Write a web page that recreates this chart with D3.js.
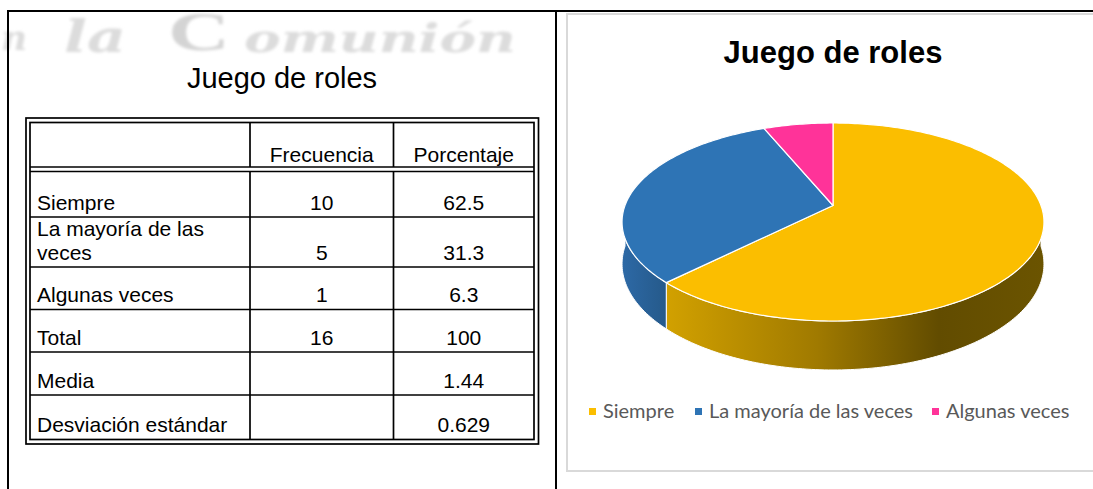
<!DOCTYPE html>
<html><head><meta charset="utf-8">
<script src="https://cdn.jsdelivr.net/npm/d3@7"></script>
<style>html,body{margin:0;padding:0;background:#fff;overflow:hidden;} svg{display:block;}</style>
</head><body>
<svg id="c" width="1093" height="489"></svg>
<script>
// ---------------- data ----------------
const tableTitle = "Juego de roles";
const chartTitle = "Juego de roles";
const headers = ["", "Frecuencia", "Porcentaje"];
const rowLabels = [["Siempre"], ["La mayoría de las", "veces"], ["Algunas veces"], ["Total"], ["Media"], ["Desviación estándar"]];
const frecuencias = ["10", "5", "1", "16", "", ""];
const porcentajes = ["62.5", "31.3", "6.3", "100", "1.44", "0.629"];
const categories = ["Siempre", "La mayoría de las veces", "Algunas veces"];
const values = [10, 5, 1];
const colors = ["#fbbe00", "#2e74b5", "#ff3399"];
const watermark = ["n", "la", "C", "omunión"];

// ---------------- drawing ----------------
const svg = d3.select("#c");
const defs = svg.append("defs");
defs.append("filter").attr("id", "blur").append("feGaussianBlur").attr("stdDeviation", 1.8);

// watermark
const wm = svg.append("g").attr("filter", "url(#blur)").attr("fill", "#dcdcdc")
  .style("font-family", "'DejaVu Serif', serif").style("font-style", "italic").style("font-weight", "bold");
wm.append("text").attr("x", 1).attr("y", 50).style("font-size", "36px").text(watermark[0]);
wm.append("text").attr("x", 64).attr("y", 52).style("font-size", "44px").attr("textLength", 62).attr("lengthAdjust", "spacingAndGlyphs").text(watermark[1]);
wm.append("text").attr("x", 168).attr("y", 50).style("font-family", "'Liberation Serif', serif").style("font-size", "54px")
  .style("font-style", "normal").style("font-weight", "bold")
  .attr("textLength", 62).attr("lengthAdjust", "spacingAndGlyphs").attr("fill", "#d4d4d4").text(watermark[2]);
wm.append("text").attr("x", 244).attr("y", 52).style("font-size", "40px").attr("textLength", 272).attr("lengthAdjust", "spacingAndGlyphs").text(watermark[3]);

// frame
const frame = svg.append("g").attr("stroke", "#000").attr("stroke-width", 2);
frame.append("line").attr("x1", 7).attr("x2", 1093).attr("y1", 11).attr("y2", 11);
frame.append("line").attr("x1", 8).attr("x2", 8).attr("y1", 10).attr("y2", 489);
frame.append("line").attr("x1", 556).attr("x2", 556).attr("y1", 10).attr("y2", 489);

// ---- table ----
const fontT = "'Liberation Sans', Arial, sans-serif";
svg.append("text").attr("x", 282).attr("y", 88).attr("text-anchor", "middle")
  .style("font-family", fontT).style("font-size", "29px").attr("fill", "#000").text(tableTitle);

const colX = [30, 250, 393.5, 534];
const rowY = [171.5, 217, 267, 309.5, 352, 395, 439.5];
const tb = svg.append("g").attr("stroke", "#000").attr("stroke-width", 1.7).attr("fill", "none");
tb.append("rect").attr("x", 26).attr("y", 118).attr("width", 512.5).attr("height", 326);
tb.append("rect").attr("x", 30).attr("y", 122.5).attr("width", 504).attr("height", 317);
tb.append("line").attr("x1", 30).attr("x2", 534).attr("y1", 167).attr("y2", 167);
rowY.slice(0, -1).forEach(y => tb.append("line").attr("x1", 30).attr("x2", 534).attr("y1", y).attr("y2", y));
[colX[1], colX[2]].forEach(x => {
  tb.append("line").attr("x1", x).attr("x2", x).attr("y1", 122.5).attr("y2", 167);
  tb.append("line").attr("x1", x).attr("x2", x).attr("y1", 171.5).attr("y2", 439.5);
});

const tt = svg.append("g").style("font-family", fontT).style("font-size", "21px").attr("fill", "#000");
const colC = [null, (colX[1] + colX[2]) / 2, (colX[2] + colX[3]) / 2];
tt.append("text").attr("x", colC[1]).attr("y", 162).attr("text-anchor", "middle").text(headers[1]);
tt.append("text").attr("x", colC[2]).attr("y", 162).attr("text-anchor", "middle").text(headers[2]);
rowY.slice(1).forEach((yb, i) => {
  const base = yb - 7.5;
  const lines = rowLabels[i];
  lines.forEach((l, j) => {
    tt.append("text").attr("x", 37).attr("y", base - (lines.length - 1 - j) * 24).text(l);
  });
  tt.append("text").attr("x", colC[1]).attr("y", base).attr("text-anchor", "middle").text(frecuencias[i]);
  tt.append("text").attr("x", colC[2]).attr("y", base).attr("text-anchor", "middle").text(porcentajes[i]);
});

// ---- chart box ----
svg.append("rect").attr("x", 567).attr("y", 14).attr("width", 600).attr("height", 457)
  .attr("fill", "#fff").attr("stroke", "#d9d9d9").attr("stroke-width", 2);
svg.append("text").attr("x", 833).attr("y", 63).attr("text-anchor", "middle")
  .style("font-family", fontT).style("font-size", "31px").style("font-weight", "bold")
  .attr("fill", "#000").text(chartTitle);

// ---- 3D pie ----
const P = {cx: 833, cy: 205.5, A: 208, B: 96.25, k: 0.1667, H: 40.8};
function proj(theta, depth) {
  const u = Math.sin(theta), v = Math.cos(theta);
  const w = 1 + P.k * v;
  return [P.cx + P.A * u / w, P.cy - P.B * v / w + depth * P.H / w];
}
function arcPts(a0, a1, depth) {
  const n = Math.max(2, Math.ceil((a1 - a0) / (Math.PI / 180)));
  return d3.range(n + 1).map(i => proj(a0 + (a1 - a0) * i / n, depth));
}
const pie = d3.pie().sort(null).value(d => d)(values);

const yg = defs.append("linearGradient").attr("id", "gy").attr("gradientUnits", "userSpaceOnUse")
  .attr("x1", 665).attr("x2", 1045).attr("y1", 0).attr("y2", 0);
[[0, "#d2a100"], [0.4, "#a07a00"], [0.72, "#624c00"], [1, "#6b5400"]]
  .forEach(s => yg.append("stop").attr("offset", s[0]).attr("stop-color", s[1]));
const bg = defs.append("linearGradient").attr("id", "gb").attr("gradientUnits", "userSpaceOnUse")
  .attr("x1", 622).attr("x2", 668).attr("y1", 0).attr("y2", 0);
[[0, "#2d69a6"], [1, "#255989"]].forEach(s => bg.append("stop").attr("offset", s[0]).attr("stop-color", s[1]));
const sideFill = ["url(#gy)", "url(#gb)", "#b0246c"];

const line = d3.line();
const gp = svg.append("g");
pie.forEach((d, i) => {
  const s = Math.max(d.startAngle, Math.PI / 2), e = Math.min(d.endAngle, 3 * Math.PI / 2);
  if (e > s) {
    const pts = arcPts(s, e, 0).concat(arcPts(s, e, 1).reverse());
    gp.append("path").attr("d", line(pts) + "Z").attr("fill", sideFill[i])
      .attr("stroke", "#fff").attr("stroke-width", 1).attr("stroke-linejoin", "round");
  }
});
pie.forEach((d, i) => {
  const pts = [[P.cx, P.cy]].concat(arcPts(d.startAngle, d.endAngle, 0));
  gp.append("path").attr("d", line(pts) + "Z").attr("fill", colors[i])
    .attr("stroke", "#fff").attr("stroke-width", 1.2).attr("stroke-linejoin", "round");
});

// ---- legend ----
const legX = [589, 695, 932];
const lg = svg.append("g").style("font-family", "Lato, 'Open Sans', sans-serif").style("font-size", "20px");
categories.forEach((c, i) => {
  lg.append("rect").attr("x", legX[i]).attr("y", 408).attr("width", 7).attr("height", 7).attr("fill", colors[i]);
  lg.append("text").attr("x", legX[i] + 14).attr("y", 418).attr("fill", "#595959").text(c);
});
</script>
</body></html>
